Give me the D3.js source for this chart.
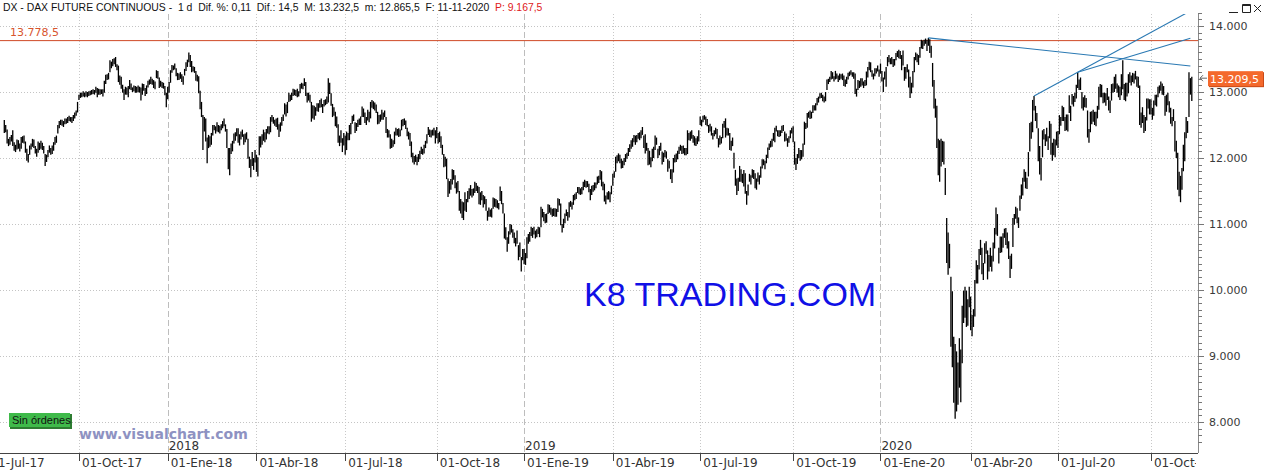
<!DOCTYPE html>
<html><head><meta charset="utf-8">
<script src="https://cdn.jsdelivr.net/npm/d3@7"></script>
<style>
body{margin:0;background:#fff;}
svg{display:block;}
text{white-space:pre;}
</style></head>
<body>
<svg id="chart" width="1268" height="470"></svg>
<script>
// Daily bars of the DAX future, [high, low] per trading day, one array per calendar quarter
const q3_17 = [[12576,12380],[12500,12390],[12430,12220],[12290,12180],[12320,12200],[12350,12250],[12420,12180],[12240,12110],[12200,12090],[12280,12130],[12270,12140],[12220,12100],[12320,12140],[12330,12230],[12340,12220],[12250,12080],[12140,11960],[12060,11930],[12190,12050],[12220,12130],[12290,12170],[12280,12150],[12180,12070],[12140,12020],[12250,12080],[12230,12120],[12260,12140],[12230,12120],[12180,12070],[12060,11880],[12050,11940],[12120,12010],[12190,12080],[12150,12050],[12190,12060],[12240,12110],[12320,12200],[12340,12230],[12500,12370],[12560,12450],[12580,12500],[12580,12490],[12560,12470],[12600,12510],[12600,12520],[12620,12530],[12640,12560],[12620,12550],[12620,12530],[12650,12560],[12690,12600],[12720,12640],[12850,12690]];
const q4_17 = [[12960,12880],[12990,12910],[12990,12920],[13010,12930],[12990,12920],[13010,12930],[13000,12920],[13010,12940],[13020,12950],[13030,12960],[13040,12970],[13030,12960],[13080,12990],[13060,12920],[13050,12960],[13040,12960],[13040,12970],[13040,12930],[13170,12990],[13260,13120],[13270,13180],[13290,13190],[13480,13300],[13460,13360],[13500,13390],[13510,13420],[13530,13380],[13420,13330],[13400,13150],[13250,13110],[13230,13050],[13110,12990],[13040,12880],[13080,12960],[13070,12960],[13090,12920],[13180,13040],[13130,13030],[13070,13000],[13100,13010],[13090,12990],[13080,12990],[13100,13000],[13080,12990],[13070,12870],[13130,12960],[13120,13020],[13060,12940],[13100,12970],[13170,13070],[13190,13110],[13230,13120],[13200,13110],[13180,13060],[13160,13040],[13330,13210],[13320,13200],[13220,13060],[13170,13080],[13150,13060],[13140,13050],[13090,12950],[12990,12770]];
const q1_18 = [[13080,12890],[13150,12990],[13330,13140],[13410,13290],[13400,13330],[13430,13340],[13360,13240],[13290,13180],[13280,13180],[13300,13200],[13270,13150],[13240,13110],[13350,13250],[13450,13320],[13490,13380],[13600,13450],[13560,13380],[13470,13300],[13390,13310],[13380,13290],[13320,13170],[13260,13160],[13240,12980],[13020,12740],[12850,12620],[12650,12120],[12620,12400],[12600,12250],[12310,11920],[12350,12150],[12330,12170],[12380,12200],[12500,12340],[12500,12420],[12480,12370],[12540,12400],[12500,12390],[12490,12370],[12510,12420],[12560,12450],[12600,12480],[12510,12400],[12440,12150],[12150,11830],[12150,11740],[12220,12060],[12260,12100],[12370,12220],[12390,12260],[12450,12330],[12450,12230],[12360,12190],[12400,12280],[12430,12320],[12360,12200],[12370,12240],[12390,12280],[12290,11990],[12020,11850],[11980,11710],[12090,11880],[12000,11820],[12120,11930]];
const q2_18 = [[12050,11790],[12010,11720],[12330,12040],[12330,12160],[12360,12200],[12430,12260],[12390,12240],[12440,12280],[12480,12370],[12480,12360],[12620,12390],[12650,12550],[12620,12520],[12580,12490],[12600,12470],[12610,12430],[12510,12320],[12540,12400],[12620,12490],[12660,12560],[12830,12660],[12810,12630],[12850,12680],[12990,12850],[12960,12860],[12990,12880],[13050,12940],[13040,12950],[13030,12940],[13050,12920],[13010,12930],[13120,12980],[13140,13050],[13130,13040],[13210,13090],[13150,12940],[12990,12840],[12990,12870],[12960,12840],[12850,12550],[12800,12600],[12790,12580],[12770,12640],[12830,12710],[12830,12700],[12880,12760],[12900,12770],[12820,12680],[12880,12780],[12890,12800],[12930,12820],[13210,12840],[13140,12970],[12980,12790],[12820,12620],[12770,12640],[12700,12480],[12630,12460],[12510,12230],[12340,12180],[12420,12230],[12300,12090],[12380,12190]];
const q3_18 = [[12340,12050],[12400,12120],[12380,12270],[12500,12270],[12530,12360],[12640,12520],[12660,12560],[12540,12380],[12530,12410],[12580,12470],[12600,12500],[12630,12500],[12780,12620],[12750,12620],[12690,12530],[12620,12500],[12730,12570],[12700,12540],[12850,12600],[12880,12760],[12860,12740],[12840,12720],[12810,12680],[12700,12510],[12650,12520],[12660,12550],[12730,12580],[12690,12580],[12720,12620],[12620,12380],[12440,12310],[12420,12310],[12360,12140],[12290,12150],[12270,12170],[12400,12210],[12460,12340],[12440,12340],[12450,12320],[12430,12330],[12580,12420],[12590,12480],[12600,12500],[12570,12440],[12460,12330],[12400,12280],[12380,12180],[12250,12010],[12080,11930],[12030,11900],[12050,11940],[12020,11890],[12060,11940],[12110,11980],[12170,12060],[12140,12050],[12200,12070],[12260,12150],[12360,12220],[12470,12350],[12430,12320],[12420,12310],[12430,12340],[12460,12340],[12420,12220]];
const q4_18 = [[12470,12300],[12380,12220],[12400,12240],[12330,12150],[12200,12050],[12060,11860],[12020,11870],[11990,11680],[11690,11410],[11650,11460],[11680,11520],[11830,11600],[11820,11670],[11740,11540],[11630,11460],[11650,11480],[11500,11200],[11380,11160],[11340,11090],[11330,11060],[11480,11200],[11380,11180],[11500,11330],[11540,11380],[11590,11430],[11530,11400],[11540,11430],[11640,11470],[11620,11500],[11580,11470],[11560,11300],[11480,11290],[11500,11360],[11440,11250],[11420,11300],[11380,11200],[11200,11050],[11250,11110],[11220,11110],[11240,11100],[11400,11230],[11390,11260],[11380,11250],[11360,11240],[11320,11220],[11570,11350],[11500,11300],[11320,11160],[11160,10780],[10950,10760],[10800,10580],[10890,10700],[11000,10840],[10990,10870],[10920,10790],[10870,10710],[10790,10660],[10900,10700],[10680,10450],[10720,10500],[10500,10280],[10620,10450]];
const q1_19 = [[10620,10390],[10560,10380],[10800,10480],[10850,10700],[10880,10730],[10960,10820],[10940,10790],[10960,10840],[10900,10780],[10920,10800],[10960,10850],[10950,10800],[11260,10950],[11230,11100],[11180,11040],[11150,11010],[11160,11020],[11300,11150],[11290,11170],[11250,11140],[11230,11110],[11240,11120],[11240,11110],[11230,11110],[11390,11180],[11380,11280],[11310,10980],[11000,10870],[11080,10940],[11160,11010],[11220,11120],[11180,11050],[11330,11100],[11350,11260],[11330,11220],[11440,11290],[11460,11360],[11480,11380],[11560,11470],[11560,11450],[11540,11440],[11560,11450],[11640,11510],[11670,11560],[11650,11550],[11650,11560],[11610,11480],[11530,11360],[11580,11440],[11590,11490],[11630,11510],[11630,11540],[11720,11600],[11730,11620],[11820,11670],[11800,11570],[11640,11510],[11610,11340],[11430,11300],[11480,11370],[11500,11370],[11480,11330],[11580,11450]];
const q2_19 = [[11760,11580],[11800,11700],[12020,11790],[12040,11920],[12070,11950],[12050,11920],[11990,11840],[11960,11850],[12000,11890],[12060,11940],[12080,11990],[12150,12030],[12210,12090],[12270,12140],[12300,12170],[12350,12240],[12340,12200],[12350,12240],[12380,12290],[12390,12270],[12420,12300],[12470,12350],[12340,12150],[12360,12070],[12230,12110],[12150,11890],[12110,11900],[12010,11860],[12140,11950],[12170,12000],[12340,12120],[12310,12200],[12140,12000],[12180,12040],[12230,12110],[12100,11900],[12080,11940],[12120,12010],[12100,11990],[11980,11790],[11960,11840],[11830,11680],[11830,11620],[12000,11780],[12050,11930],[12070,11940],[12110,11980],[12170,12060],[12200,12110],[12180,12060],[12190,12070],[12150,12040],[12150,12040],[12420,12060],[12380,12270],[12400,12260],[12420,12290],[12350,12230],[12330,12190],[12300,12180],[12330,12210],[12420,12250]];
const q3_19 = [[12630,12500],[12580,12480],[12640,12540],[12650,12580],[12630,12500],[12590,12480],[12500,12380],[12520,12400],[12480,12340],[12380,12280],[12420,12330],[12460,12360],[12440,12290],[12300,12160],[12340,12200],[12320,12220],[12520,12300],[12560,12460],[12600,12310],[12460,12340],[12450,12340],[12380,12120],[12260,12110],[12310,12180],[12080,11840],[11820,11580],[11690,11440],[11700,11500],[11880,11640],[11830,11640],[11760,11620],[11820,11570],[11770,11460],[11500,11290],[11600,11430],[11760,11640],[11740,11600],[11830,11700],[11820,11680],[11770,11540],[11690,11520],[11780,11640],[11740,11600],[11870,11700],[11980,11840],[11980,11890],[11960,11830],[12050,11920],[12160,12000],[12220,12120],[12260,12160],[12290,12170],[12380,12260],[12460,12240],[12490,12400],[12420,12330],[12420,12320],[12420,12330],[12490,12380],[12500,12410],[12400,12250],[12370,12260],[12300,12170],[12330,12230],[12420,12300],[12460,12370]];
const q4_19 = [[12480,12240],[12250,11900],[12000,11820],[12060,11910],[12150,12000],[12120,11960],[12120,11980],[12220,12020],[12550,12200],[12530,12440],[12680,12460],[12700,12610],[12720,12590],[12700,12600],[12800,12680],[12800,12720],[12830,12720],[12910,12800],[12930,12840],[12980,12900],[12990,12910],[12960,12860],[12930,12840],[13000,12860],[13190,13030],[13200,13120],[13230,13150],[13320,13190],[13300,13200],[13240,13160],[13320,13190],[13280,13200],[13250,13150],[13280,13180],[13270,13200],[13280,13180],[13250,13090],[13190,13080],[13230,13120],[13290,13190],[13310,13240],[13330,13260],[13300,13230],[13300,13200],[13280,12970],[13050,12930],[13180,13030],[13170,13060],[13210,13080],[13210,13100],[13160,13060],[13180,13090],[13310,13100],[13380,13220],[13460,13330],[13450,13300],[13330,13230],[13280,13190],[13360,13240],[13360,13280],[13400,13310],[13340,13230]];
const q1_20 = [[13430,13280],[13320,13160],[13220,13000],[13310,13190],[13380,13080],[13530,13390],[13560,13450],[13510,13420],[13530,13420],[13500,13380],[13500,13400],[13590,13480],[13620,13530],[13640,13510],[13620,13500],[13560,13330],[13630,13400],[13380,13170],[13380,13200],[13420,13300],[13340,13070],[13230,12910],[13140,12980],[13320,13070],[13530,13300],[13600,13480],[13580,13450],[13560,13410],[13680,13520],[13790,13660],[13780,13650],[13790,13700],[13810,13730],[13790,13620],[13820,13700],[13800,13590],[13700,13520],[13440,13080],[13180,12750],[12900,12610],[12790,12150],[12290,11740],[12270,11640],[12290,11870],[12260,11940],[12250,11900],[11850,11440],[11090,10410],[10870,10230],[10700,10330],[10200,9140],[9980,8830],[9290,8290],[9180,8050],[9070,8160],[8900,8260],[9270,8520],[9100,8300],[9760,8890],[9990,9500],[10050,9580],[9990,9440],[9860,9460],[10050,9740]];
const q2_20 = [[9900,9390],[9620,9300],[9710,9440],[10150,9600],[10450,10100],[10380,10100],[10620,10310],[10760,10530],[10640,10240],[10410,10150],[10710,10400],[10740,10550],[10600,10160],[10530,10280],[10640,10350],[10520,10280],[10720,10430],[10940,10630],[11250,10840],[11150,10820],[10640,10400],[10810,10560],[10810,10570],[10860,10640],[10930,10790],[10940,10680],[10870,10630],[10740,10470],[10520,10180],[10550,10320],[11090,10650],[11150,10990],[11260,11080],[11240,11010],[11100,10940],[11430,11200],[11600,11380],[11700,11430],[11830,11640],[11790,11540],[11700,11530],[12090,11720],[12530,12100],[12550,12290],[12880,12390],[12940,12720],[12790,12560],[12680,12450],[12450,11950],[12180,11750],[12000,11660],[12420,12010],[12440,12280],[12360,12180],[12460,12250],[12330,12120],[12560,12300],[12520,12050],[12230,11960],[12290,12040],[12280,12010],[12400,12190]];
const q3_20 = [[12410,12150],[12650,12360],[12620,12490],[12790,12560],[12770,12560],[12620,12410],[12660,12420],[12660,12400],[12950,12680],[12790,12560],[12970,12810],[12940,12780],[12990,12850],[13110,12900],[13300,13060],[13190,13030],[13220,13030],[13000,12750],[12920,12720],[12950,12770],[12910,12760],[12720,12310],[12440,12230],[12700,12390],[12710,12510],[12730,12550],[12700,12500],[12700,12480],[12790,12600],[13080,12730],[13120,12920],[13110,12920],[12990,12830],[12990,12840],[12980,12790],[13060,12880],[12930,12720],[12870,12680],[13120,12870],[13130,12990],[13230,13000],[13270,13050],[13130,12990],[13100,12920],[13080,12880],[13270,12950],[13480,13040],[13120,12880],[13140,12860],[13140,12930],[13270,12980],[13300,13140],[13250,13100],[13290,13150],[13280,13130],[13320,13190],[13240,13080],[13230,13060],[13100,12500],[12690,12460],[12770,12530],[12650,12380],[12620,12410],[12900,12570],[12900,12750],[12890,12660]];
const q4_20 = [[12890,12660],[12760,12580],[12870,12640],[12960,12800],[12960,12780],[13080,12920],[13100,12980],[13160,13020],[13130,12960],[13090,12950],[12940,12640],[12960,12700],[12990,12800],[12860,12690],[12760,12520],[12620,12480],[12740,12560],[12560,12100],[12260,12000],[12080,11520],[11790,11420],[11730,11330],[11850,11520],[12200,11800],[12390,11950],[12620,12300],[12560,12380],[13300,12620],[13210,12960],[13232.5,12865.5]];

const quarterData = [q3_17,q4_17,q1_18,q2_18,q3_18,q4_18,q1_19,q2_19,q3_19,q4_19,q1_20,q2_20,q3_20,q4_20];
const quarterLabels = ["01-Jul-17","01-Oct-17","01-Ene-18","01-Abr-18","01-Jul-18","01-Oct-18","01-Ene-19","01-Abr-19","01-Jul-19","01-Oct-19","01-Ene-20","01-Abr-20","01-Jul-20","01-Oct-20"];
const yearLabels = ["2018","2019","2020"];      // drawn at the 01-Ene quarters
const julyDaysBeforeFirstBar = 12;               // Jul-17 sessions scrolled off the left edge
const priceTicks = [8000,9000,10000,11000,12000,13000,14000];
const resistanceLevel = 13778.5;
const lastPrice = 13209.5;
// trend lines: [startBarIndex, startPrice, endBarIndex, endPrice]
const trendLines = [[656,13820,842,13395],[731,12940,843,14240],[762,13300,842,13815]];
const headerParts = ["DX - DAX FUTURE CONTINUOUS -  1 d  Dif. %: 0,11  Dif.: 14,5  M: 13.232,5  m: 12.865,5  F: 11-11-2020  ","P: 9.167,5"];

const svg = d3.select("#chart");
const plotL = 0, plotR = 1198, plotT = 14, plotB = 453;
const bars = quarterData.flat();
const N = bars.length;
const x = d3.scaleLinear().domain([0, N - 1]).range([4.3, 1191.8]);
const y = d3.scaleLinear().domain([8000, 14000]).range([422, 26]);
const esFmt = d3.formatLocale({decimal: ",", thousands: ".", grouping: [3], currency: ["", ""]});
const fmtInt = esFmt.format(",.0f"), fmt1 = esFmt.format(",.1f");

// quarter start indices
const qStarts = [];
let acc = 0;
quarterData.forEach((q, k) => { qStarts.push(k === 0 ? -julyDaysBeforeFirstBar : acc); acc += q.length; });

const defs = svg.append("defs");
defs.append("clipPath").attr("id", "plotClip").append("rect").attr("x", plotL).attr("y", plotT).attr("width", plotR - plotL).attr("height", plotB - plotT);
defs.append("clipPath").attr("id", "xClip").append("rect").attr("x", 0).attr("y", plotB).attr("width", plotR - 2).attr("height", 470 - plotB);

// horizontal dotted grid
svg.append("g").selectAll("line").data(priceTicks).join("line")
  .attr("x1", plotL).attr("x2", plotR).attr("y1", d => Math.round(y(d)) + 0.5).attr("y2", d => Math.round(y(d)) + 0.5)
  .attr("stroke", "#c4c4c4").attr("stroke-dasharray", "1,2");

// vertical quarter lines
const isYear = l => l.indexOf("-Ene-") > 0;
svg.append("g").attr("clip-path", "url(#plotClip)").selectAll("line").data(qStarts.map((s, k) => ({s, l: quarterLabels[k]}))).join("line")
  .attr("x1", d => Math.round(x(d.s)) + 0.5).attr("x2", d => Math.round(x(d.s)) + 0.5)
  .attr("y1", plotT).attr("y2", plotB)
  .attr("stroke", d => isYear(d.l) ? "#bdbdbd" : "#c8c8c8")
  .attr("stroke-dasharray", d => isYear(d.l) ? "6,3" : "1,2");

// resistance line
svg.append("line").attr("x1", plotL).attr("x2", plotR).attr("y1", y(resistanceLevel)).attr("y2", y(resistanceLevel))
  .attr("stroke", "#cf4a26").attr("stroke-width", 1);
svg.append("text").attr("x", 10).attr("y", y(resistanceLevel) - 5).attr("fill", "#d8552e")
  .attr("font-family", "DejaVu Sans, sans-serif").attr("font-size", 11).text(fmt1(resistanceLevel));

// watermark K8
svg.append("text").attr("x", 584).attr("y", 306).attr("fill", "#1010e6")
  .attr("font-family", "Liberation Sans, Arial, sans-serif").attr("font-size", 34).text("K8 TRADING.COM");

// bars
svg.append("g").attr("clip-path", "url(#plotClip)").selectAll("line").data(bars).join("line")
  .attr("x1", (d, i) => x(i)).attr("x2", (d, i) => x(i))
  .attr("y1", d => y(d[0])).attr("y2", d => y(d[1]))
  .attr("stroke", "#000").attr("stroke-width", 1.3);

// trend lines
svg.append("g").attr("clip-path", "url(#plotClip)").selectAll("line").data(trendLines).join("line")
  .attr("x1", d => x(d[0])).attr("y1", d => y(d[1])).attr("x2", d => x(d[2])).attr("y2", d => y(d[3]))
  .attr("stroke", "#2a79b3").attr("stroke-width", 1.1);

// right axis
svg.append("line").attr("x1", plotR + 0.5).attr("x2", plotR + 0.5).attr("y1", plotT).attr("y2", plotB).attr("stroke", "#8a8a8a");
const minorTicks = d3.range(7700, 14201, 100);
svg.append("g").selectAll("line").data(minorTicks).join("line")
  .attr("x1", plotR).attr("x2", d => d % 1000 === 0 ? plotR + 6 : plotR + 4)
  .attr("y1", d => Math.round(y(d)) + 0.5).attr("y2", d => Math.round(y(d)) + 0.5).attr("stroke", "#777");
svg.append("g").selectAll("text").data(priceTicks).join("text")
  .attr("x", 1209).attr("y", d => y(d) + 4).attr("fill", "#3a3a3a")
  .attr("font-family", "DejaVu Sans, sans-serif").attr("font-size", 11).text(d => fmtInt(d));

// last price marker
const yl = y(lastPrice);
svg.append("path").attr("d", `M1207,${yl}L1200,${yl}M1203,${yl-3}L1200,${yl}L1203,${yl+3}`).attr("stroke", "#666").attr("fill", "none");
svg.append("rect").attr("x", 1209).attr("y", yl - 6).attr("width", 55).attr("height", 15).attr("fill", "#c94a18");
svg.append("rect").attr("x", 1208).attr("y", yl - 7).attr("width", 55).attr("height", 15).attr("fill", "#f4692c");
svg.append("text").attr("x", 1210).attr("y", yl + 5).attr("fill", "#fff")
  .attr("font-family", "DejaVu Sans, sans-serif").attr("font-size", 11).text(fmt1(lastPrice));

// bottom axis
svg.append("line").attr("x1", 0).attr("x2", plotR).attr("y1", plotB + 0.5).attr("y2", plotB + 0.5).attr("stroke", "#444");
const xg = svg.append("g").attr("clip-path", "url(#xClip)");
xg.selectAll("line").data(qStarts).join("line")
  .attr("x1", d => Math.round(x(d)) + 0.5).attr("x2", d => Math.round(x(d)) + 0.5)
  .attr("y1", plotB).attr("y2", plotB + 8).attr("stroke", "#444");
xg.selectAll("text").data(qStarts).join("text")
  .attr("x", d => x(d) + 3).attr("y", 467).attr("fill", "#333")
  .attr("font-family", "DejaVu Sans, sans-serif").attr("font-size", 12)
  .text((d, k) => quarterLabels[k]);
const yearStarts = qStarts.filter((s, k) => isYear(quarterLabels[k]));
svg.append("g").selectAll("text").data(yearStarts).join("text")
  .attr("x", d => x(d) + 1).attr("y", 450).attr("fill", "#333")
  .attr("font-family", "DejaVu Sans, sans-serif").attr("font-size", 12)
  .text((d, k) => yearLabels[k]);

// "Sin órdenes" badge and visualchart watermark
svg.append("rect").attr("x", 10).attr("y", 414).attr("width", 62).attr("height", 15).attr("fill", "#2e7d32");
svg.append("rect").attr("x", 9).attr("y", 413).attr("width", 61).attr("height", 14).attr("fill", "#3fba4a");
svg.append("text").attr("x", 12).attr("y", 424).attr("fill", "#111")
  .attr("font-family", "Liberation Sans, Arial, sans-serif").attr("font-size", 11).text("Sin órdenes");
svg.append("text").attr("x", 79).attr("y", 439).attr("fill", "#8e92c2")
  .attr("font-family", "DejaVu Sans, sans-serif").attr("font-weight", "bold").attr("font-size", 14).text("www.visualchart.com");

// header
const ht = svg.append("text").attr("x", 3).attr("y", 11).attr("font-family", "Liberation Sans, Arial, sans-serif").attr("font-size", 10.4);
ht.append("tspan").attr("fill", "#111").text(headerParts[0]);
ht.append("tspan").attr("fill", "#e0201a").text(headerParts[1]);

// window buttons
svg.append("path").attr("d", "M1229,12.5H1238M1242.5,4.5H1250.5V12.5H1242.5ZM1242.5,5.5H1250.5M1254,5L1261,12M1261,5L1254,12")
  .attr("stroke", "#222").attr("fill", "none").attr("stroke-width", 1);
</script>
</body></html>
